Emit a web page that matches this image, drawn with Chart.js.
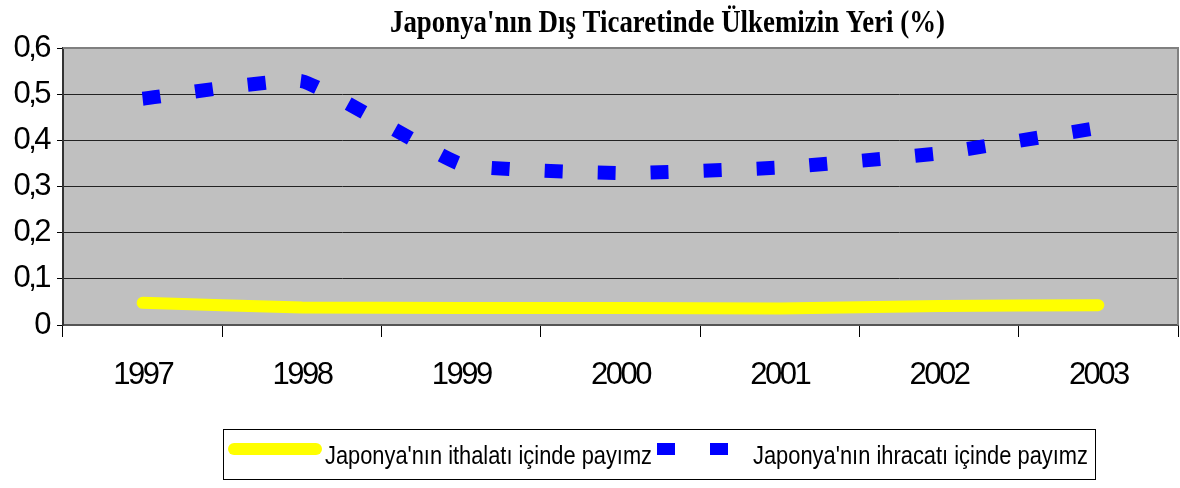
<!DOCTYPE html>
<html>
<head>
<meta charset="utf-8">
<script src="https://cdn.jsdelivr.net/npm/chart.js@4/dist/chart.umd.min.js"></script>
<style>
html,body{margin:0;padding:0;background:#fff;}
#wrap{width:1180px;height:488px;}
</style>
</head>
<body>
<div id="wrap"><canvas id="c" width="1180" height="488"></canvas></div>
<script>
const titleText = "Japonya'nın Dış Ticaretinde Ülkemizin Yeri (%)";
const years = ['1997', '1998', '1999', '2000', '2001', '2002', '2003'];
const importShare = [0.048, 0.038, 0.037, 0.037, 0.036, 0.041, 0.043];
const exportShare = [0.49, 0.528, 0.348, 0.329, 0.341, 0.372, 0.427];
const importLabel = "Japonya'nın ithalatı içinde payımz";
const exportLabel = "Japonya'nın ihracatı içinde payımz";
const yTickLabels = ['0', '0,1', '0,2', '0,3', '0,4', '0,5', '0,6'];

const SANS = "'Liberation Sans', Arial, sans-serif";

const BLUE = '#0000ff';
const YELLOW = '#ffff00';

const decorPlugin = {
  id: 'decor',
  beforeDraw(chart) {
    const {ctx, chartArea: a} = chart;
    ctx.save();
    ctx.fillStyle = '#c0c0c0';
    ctx.fillRect(a.left, a.top, a.right - a.left, a.bottom - a.top);
    ctx.restore();
    try { ctx.letterSpacing = '-2.5px'; } catch (e) {}
  },
  beforeDatasetsDraw(chart) {
    const {ctx, chartArea: a} = chart;
    ctx.save();
    ctx.strokeStyle = '#808080';
    ctx.lineWidth = 2;
    ctx.beginPath();
    ctx.moveTo(a.left, a.top);
    ctx.lineTo(a.right, a.top);
    ctx.lineTo(a.right, a.bottom);
    ctx.stroke();
    ctx.restore();
  },
  afterDraw(chart) {
    const ctx = chart.ctx;
    try { ctx.letterSpacing = '0px'; } catch (e) {}
    // title
    ctx.save();
    ctx.font = "bold 31px 'Liberation Serif', 'Times New Roman', serif";
    ctx.fillStyle = '#000';
    ctx.textBaseline = 'alphabetic';
    const w = ctx.measureText(titleText).width;
    ctx.translate(390, 32);
    ctx.scale(555 / w, 1);
    ctx.fillText(titleText, 0, 0);
    ctx.restore();

    // legend box
    ctx.save();
    ctx.strokeStyle = '#000';
    ctx.lineWidth = 1;
    ctx.strokeRect(223.5, 429.5, 872, 50);
    const ds0 = chart.data.datasets[0];
    const ds1 = chart.data.datasets[1];
    // yellow sample
    ctx.strokeStyle = ds0.borderColor;
    ctx.lineWidth = 12;
    ctx.lineCap = 'round';
    ctx.beginPath();
    ctx.moveTo(234, 449);
    ctx.lineTo(316, 449);
    ctx.stroke();
    // blue dashed sample
    ctx.strokeStyle = ds1.borderColor;
    ctx.lineWidth = 12;
    ctx.lineCap = 'butt';
    ctx.setLineDash([18, 35]);
    ctx.beginPath();
    ctx.moveTo(657, 449);
    ctx.lineTo(728, 449);
    ctx.stroke();
    ctx.setLineDash([]);
    // texts
    ctx.fillStyle = '#000';
    ctx.font = "25px " + SANS;
    ctx.textBaseline = 'alphabetic';
    const drawFit = (txt, x, y, tw) => {
      const mw = ctx.measureText(txt).width;
      ctx.save();
      ctx.translate(x, y);
      ctx.scale(tw / mw, 1);
      ctx.fillText(txt, 0, 0);
      ctx.restore();
    };
    drawFit(ds0.label, 325, 464, 327);
    drawFit(ds1.label, 753, 464, 335);
    ctx.restore();
  }
};

new Chart(document.getElementById('c'), {
  type: 'line',
  data: {
    labels: years,
    datasets: [
      {
        label: importLabel,
        data: importShare,
        borderColor: YELLOW,
        backgroundColor: YELLOW,
        borderWidth: 12,
        borderCapStyle: 'round',
        borderJoinStyle: 'round',
        pointRadius: 0,
        tension: 0.12,
        fill: false
      },
      {
        label: exportLabel,
        data: exportShare,
        borderColor: BLUE,
        backgroundColor: BLUE,
        borderWidth: 14,
        borderDash: [18, 35],
        borderCapStyle: 'butt',
        pointRadius: 0,
        tension: 0.12,
        fill: false
      }
    ]
  },
  options: {
    responsive: false,
    animation: false,
    layout: {padding: {top: 48, right: 2, left: 0, bottom: 0}},
    plugins: {
      legend: {display: false},
      title: {display: false},
      tooltip: {enabled: false}
    },
    scales: {
      x: {
        type: 'category',
        offset: true,
        grid: {
          offset: true,
          drawOnChartArea: false,
          drawTicks: true,
          tickLength: 12,
          color: '#000',
          tickColor: '#000',
          tickWidth: 1
        },
        border: {display: true, color: '#555', width: 2},
        ticks: {
          color: '#000',
          font: {family: SANS, size: 31},
          padding: 20,
          maxRotation: 0,
          autoSkip: false
        },
        afterFit(s) { s.height = 163; }
      },
      y: {
        min: 0,
        max: 0.6,
        grid: {
          color: (c) => (c.tick && (c.tick.value === 0 || Math.abs(c.tick.value - 0.6) < 1e-9)) ? 'rgba(0,0,0,0)' : '#222',
          tickColor: '#000',
          tickLength: 6,
          lineWidth: 1
        },
        border: {display: true, color: '#333', width: 2},
        ticks: {
          stepSize: 0.1,
          color: '#000',
          font: {family: SANS, size: 31},
          padding: 8,
          callback: (v, i) => yTickLabels[i]
        },
        afterFit(s) { s.width = 63; }
      }
    }
  },
  plugins: [decorPlugin]
});
</script>
</body>
</html>
